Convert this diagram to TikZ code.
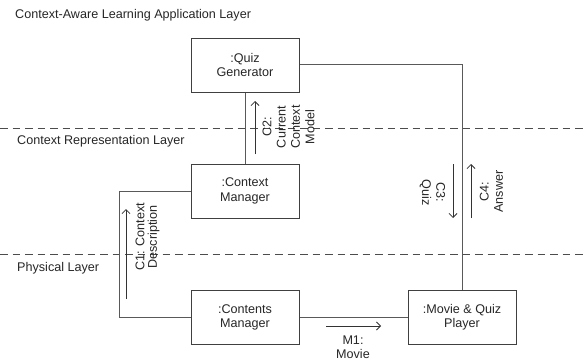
\documentclass[tikz,border=0pt]{standalone}
\usepackage{fontspec}
\setmainfont{Liberation Sans}
\usetikzlibrary{arrows.meta}
\begin{document}
\begin{tikzpicture}[x=1pt,y=-1pt,
  every node/.style={font=\fontsize{12.6}{14.3}\selectfont, text=black!85},
  obj/.style={draw=black!75, line width=1pt, minimum width=108pt, minimum height=54pt, align=center, inner sep=0pt},
  conn/.style={draw=black!65, line width=1pt},
  msg/.style={draw=black!80, line width=0.8pt, -{Straight Barb[length=4pt,width=8pt]}},
  layer/.style={draw=black!70, line width=0.8pt, dash pattern=on 7.5pt off 5pt},
  lbl/.style={align=center, inner sep=0pt}]
\useasboundingbox (0,0) rectangle (587,364);
% layer separators
\draw[layer] (0,128) -- (587,128);
\draw[layer] (0,254) -- (587,254);
% layer titles
\node[anchor=west, inner sep=0pt] (l1) at (15,15) {Context-Aware Learning Application Layer};
\node[anchor=west, inner sep=0pt] (l2) at (17,141) {Context Representation Layer};
\node[anchor=west, inner sep=0pt] (l3) at (17,268) {Physical Layer};
% objects
\node[obj] (qg) at (245,65) {:Quiz\\Generator};
\node[obj] (cm) at (245,191) {:Context\\Manager};
\node[obj] (ctm) at (245,317.5) {:Contents\\Manager};
\node[obj] (mqp) at (462,317) {:Movie \& Quiz\\Player};
% links
\coordinate (k1) at (119,191);
\coordinate (k2) at (119,317.5);
\coordinate (k3) at (462,64);
\draw[conn] (qg.south) -- (cm.north);
\draw[conn] (cm.west) -- (k1) -- (k2) -- (ctm.west);
\draw[conn] (ctm.east) -- (mqp.west |- ctm.east);
\draw[conn] (qg.east |- k3) -- (k3) -- (mqp.north);
% messages
\coordinate (c2a) at (255,154); \coordinate (c2b) at (255,101);
\coordinate (c1a) at (126,299); \coordinate (c1b) at (126,209);
\coordinate (c3a) at (453,164); \coordinate (c3b) at (453,218);
\coordinate (c4a) at (471,218); \coordinate (c4b) at (471,164);
\coordinate (m1a) at (326,326); \coordinate (m1b) at (381,326);
\draw[msg] (c2a) -- (c2b);
\draw[msg] (c1a) -- (c1b);
\draw[msg] (c3a) -- (c3b);
\draw[msg] (c4a) -- (c4b);
\draw[msg] (m1a) -- (m1b);
\node[lbl, rotate=90] (t2) at (288.5,127) {C2:\\Current\\Context\\Model};
\node[lbl, rotate=90, font=\fontsize{12.6}{12.5}\selectfont] (t1) at (147.5,237) {C1: Context\\Description};
\node[lbl, rotate=-90] (t3) at (432.5,192.5) {C3:\\Quiz};
\node[lbl, rotate=90] (t4) at (491.5,191.5) {C4:\\Answer};
\node[lbl] (tm) at (353,347.5) {M1:\\Movie};
\end{tikzpicture}
\end{document}
